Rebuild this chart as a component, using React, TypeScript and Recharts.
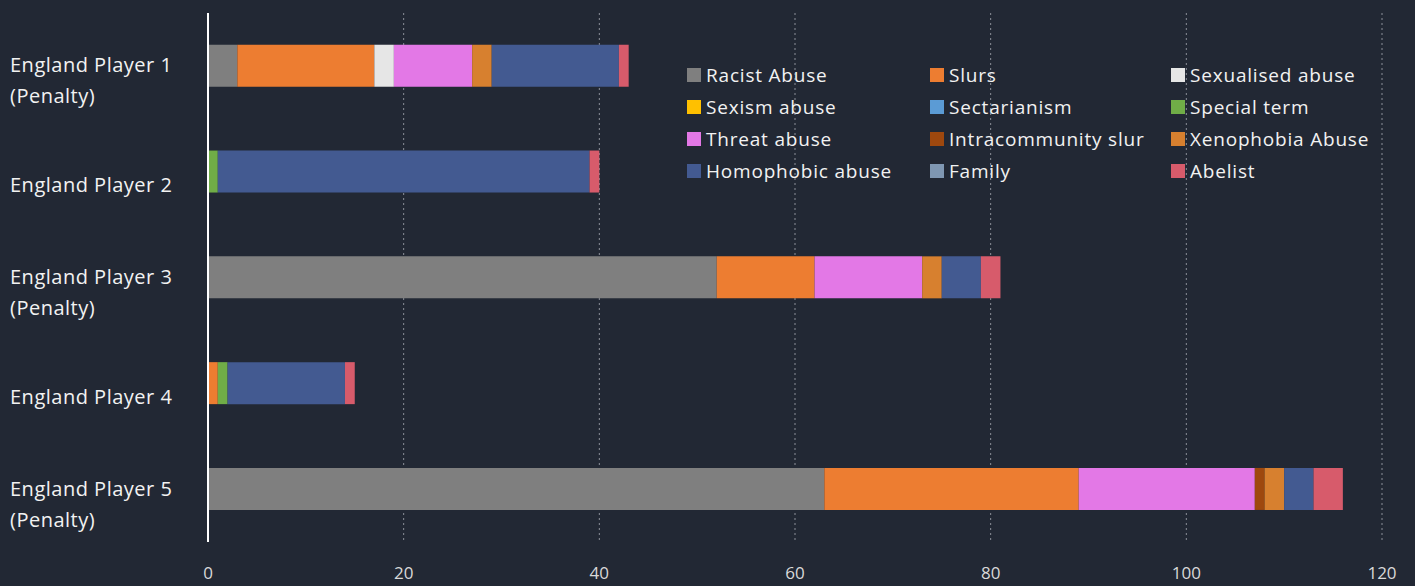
import React from 'react';
import { BarChart, Bar, XAxis, YAxis, CartesianGrid } from 'recharts';

const players = [
  'England Player 1\n(Penalty)',
  'England Player 2',
  'England Player 3\n(Penalty)',
  'England Player 4',
  'England Player 5\n(Penalty)',
];

const categories = [
  'Racist Abuse',
  'Slurs',
  'Sexualised abuse',
  'Sexism abuse',
  'Sectarianism',
  'Special term',
  'Threat abuse',
  'Intracommunity slur',
  'Xenophobia Abuse',
  'Homophobic abuse',
  'Family',
  'Abelist',
];

const colors = [
  '#7f7f7f', '#ed7d31', '#e6e6e6', '#ffc000', '#5b9bd5', '#70ad47',
  '#e378e6', '#9e480e', '#d7802f', '#435a91', '#7f97b2', '#d75b6b',
];

// values per player, in the same order as categories
const racist = [3, 0, 52, 0, 63];
const slurs = [14, 0, 10, 1, 26];
const sexualised = [2, 0, 0, 0, 0];
const sexism = [0, 0, 0, 0, 0];
const sectarianism = [0, 0, 0, 0, 0];
const specialTerm = [0, 1, 0, 1, 0];
const threat = [8, 0, 11, 0, 18];
const intracommunity = [0, 0, 0, 0, 1];
const xenophobia = [2, 0, 2, 0, 2];
const homophobic = [13, 38, 4, 12, 3];
const family = [0, 0, 0, 0, 0];
const abelist = [1, 1, 2, 1, 3];

const xTicks = [0, 20, 40, 60, 80, 100, 120];

const series = [
  racist, slurs, sexualised, sexism, sectarianism, specialTerm,
  threat, intracommunity, xenophobia, homophobic, family, abelist,
];

const data = players.map((name, i) => {
  const row: Record<string, any> = { name };
  categories.forEach((c, k) => {
    row[c] = series[k][i];
  });
  return row;
});

const FONT = '"Open Sans", "Noto Sans", sans-serif';

const PlayerTick = (props: any) => {
  const { y, payload } = props;
  const lines = String(payload.value).split('\n');
  const two = lines.length > 1;
  return (
    <g>
      {lines.map((l, i) => (
        <text
          key={i}
          x={10}
          y={y + (two ? -1 + i * 31 : 13)}
          fill="#f2f2f2"
          fontSize={20}
          letterSpacing={0.5}
          fontFamily={FONT}
          dominantBaseline="central"
          textAnchor="start"
        >
          {l}
        </text>
      ))}
    </g>
  );
};

const ValueTick = (props: any) => {
  const { x, y, payload } = props;
  return (
    <text x={x} y={y + 22} fill="#d9d9d9" fontSize={17} fontFamily={FONT}
      textAnchor="middle" dominantBaseline="central">
      {payload.value}
    </text>
  );
};

const LegendBox = () => (
  <div style={{ position: 'absolute', left: 687, top: 63, width: 720, height: 130 }}>
    {categories.map((c, i) => {
      const col = i % 3;
      const row = Math.floor(i / 3);
      const left = [0, 243, 484][col];
      return (
        <div
          key={c}
          style={{
            position: 'absolute',
            left,
            top: row * 32,
            display: 'flex',
            alignItems: 'center',
            height: 24,
            whiteSpace: 'nowrap',
          }}
        >
          <span style={{ width: 14, height: 14, background: colors[i], marginRight: 5, display: 'inline-block' }} />
          <span style={{ color: '#f2f2f2', fontSize: 19, letterSpacing: 0.8, fontFamily: FONT }}>{c}</span>
        </div>
      );
    })}
  </div>
);

export default function App() {
  return (
    <div style={{ position: 'absolute', left: 0, top: 0, width: 1415, height: 586, background: '#222834' }}>
      <BarChart
        width={1415}
        height={586}
        data={data}
        layout="vertical"
        margin={{ top: 13, right: 33, bottom: 0, left: 0 }}
        barCategoryGap="30%"
      >
        <CartesianGrid horizontal={false} stroke="#8c9099" strokeDasharray="2 3" />
        <XAxis
          type="number"
          domain={[0, 120]}
          ticks={xTicks}
          axisLine={false}
          tickLine={false}
          height={44}
          tick={<ValueTick />}
          interval={0}
        />
        <YAxis
          type="category"
          dataKey="name"
          width={208}
          axisLine={{ stroke: '#ffffff', strokeWidth: 2 }}
          tickLine={false}
          tick={<PlayerTick />}
          interval={0}
        />
        {categories.map((c, i) => (
          <Bar key={c} dataKey={c} stackId="a" fill={colors[i]} isAnimationActive={false} />
        ))}
      </BarChart>
      <LegendBox />
    </div>
  );
}
